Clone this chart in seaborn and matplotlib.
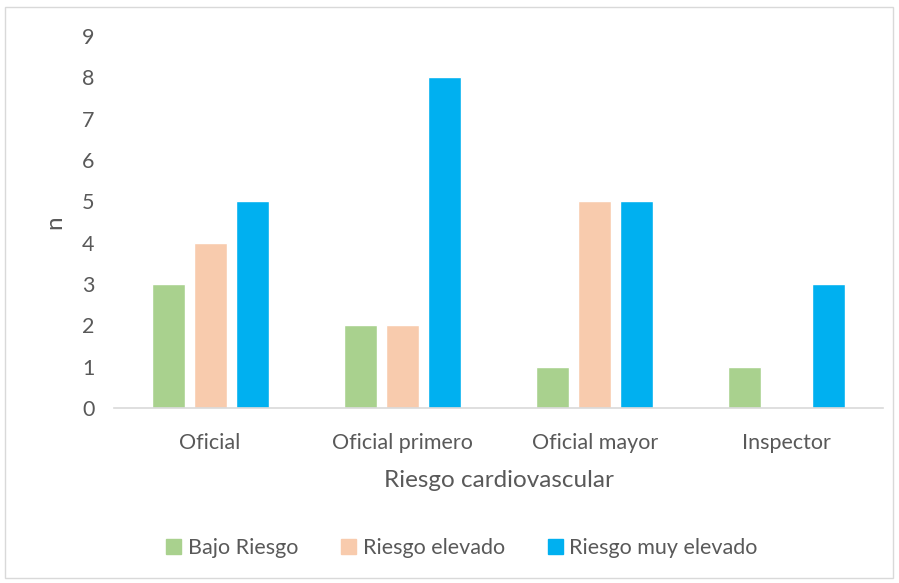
import matplotlib
matplotlib.use("Agg")
import matplotlib.pyplot as plt
import matplotlib.patches as mpatches
import seaborn as sns
import pandas as pd

# data
categorias = ['Oficial', 'Oficial primero', 'Oficial mayor', 'Inspector']
bajo_riesgo = [3, 2, 1, 1]
riesgo_elevado = [4, 2, 5, 0]
riesgo_muy_elevado = [5, 8, 5, 3]
series = ['Bajo Riesgo', 'Riesgo elevado', 'Riesgo muy elevado']
colores = ['#A9D18E', '#F8CBAD', '#00B0F0']

df = pd.DataFrame({
    'categoria': categorias * 3,
    'serie': [series[0]] * 4 + [series[1]] * 4 + [series[2]] * 4,
    'n': bajo_riesgo + riesgo_elevado + riesgo_muy_elevado,
})

sns.set_theme(style='white')
plt.rcParams['font.family'] = ['Lato', 'DejaVu Sans']
gris = '#595959'

fig = plt.figure(figsize=(8.99, 5.83), dpi=100)
ax = fig.add_axes([114 / 899, 1 - 408 / 583, (883 - 114) / 899, (408 - 36) / 583])

sns.barplot(data=df, x='categoria', y='n', hue='serie', palette=colores,
            width=0.656, gap=0.215, saturation=1, legend=False, ax=ax)

ax.set_ylim(0, 9)
ax.set_yticks(range(0, 10))
ax.set_xlim(-0.5, 3.5)
for s in ['top', 'right', 'left']:
    ax.spines[s].set_visible(False)
ax.spines['bottom'].set_color('#D9D9D9')
ax.spines['bottom'].set_linewidth(1.2)
ax.tick_params(axis='both', length=0, labelsize=15.5, colors=gris)
ax.tick_params(axis='x', pad=18)
ax.tick_params(axis='y', pad=14)
ax.set_xlabel('Riesgo cardiovascular', fontsize=17.5, color=gris, labelpad=12)
ax.set_ylabel('n', fontsize=17.5, color=gris, labelpad=12)

handles = [mpatches.Patch(color=c, label=s) for c, s in zip(colores, series)]
fig.legend(handles=handles, loc='center', bbox_to_anchor=(462 / 899, 1 - 548 / 583),
           ncol=3, frameon=False, fontsize=15.5, labelcolor=gris,
           handlelength=0.7, handleheight=0.7, handletextpad=0.3, columnspacing=2.0)

# outer chart border
fig.add_artist(mpatches.Rectangle((5 / 899, 5 / 583), 888 / 899, 571 / 583,
                                  transform=fig.transFigure, fill=False,
                                  edgecolor='#D9D9D9', linewidth=1))

fig.savefig('out.png', dpi=100)
